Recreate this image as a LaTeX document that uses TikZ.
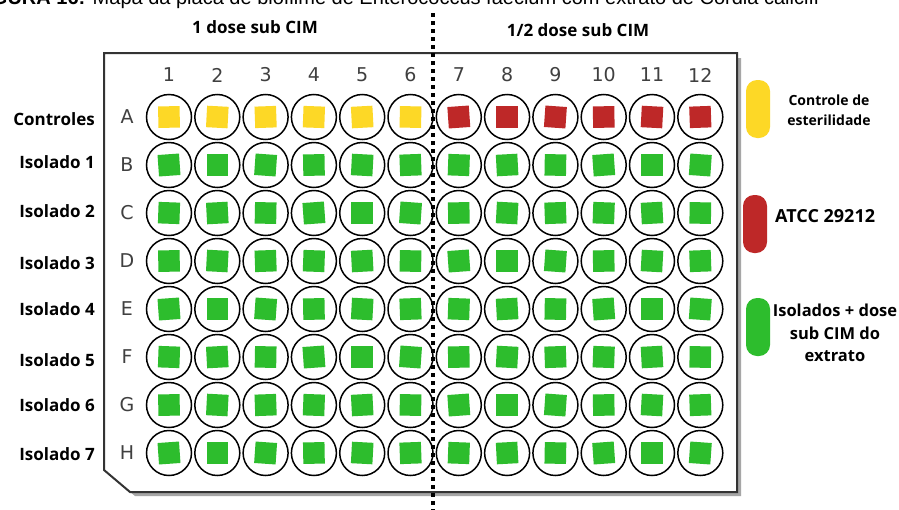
\documentclass[tikz,border=0pt]{standalone}
\usepackage{fontspec}
\setmainfont{Open Sans}
\newfontfamily\dejavu{DejaVu Sans}
\newfontfamily\arial{Liberation Sans}
\definecolor{wyel}{HTML}{FDD826}
\definecolor{wred}{HTML}{BE2828}
\definecolor{wgrn}{HTML}{2DBD2D}
\definecolor{labgray}{HTML}{404040}
\tikzset{
  well/.style={circle, draw=black, line width=1.5pt, fill=white, minimum size=45pt, inner sep=0pt},
  sq/.style={draw=none, minimum size=21.5pt, inner sep=0pt},
  collab/.style={font=\dejavu\fontsize{19}{21}\selectfont, text=labgray, inner sep=0pt},
  rowlab/.style={font=\dejavu\fontsize{19}{21}\selectfont, text=labgray, inner sep=0pt},
  sidelab/.style={font=\bfseries\fontsize{17}{19}\selectfont, anchor=east, inner sep=0pt},
  head/.style={font=\bfseries\fontsize{17}{19}\selectfont, inner sep=0pt},
  pill/.style={rounded corners=11pt, draw=none, minimum width=24pt, minimum height=58pt, inner sep=0pt},
  legtext/.style={font=\bfseries\fontsize{14}{20}\selectfont, align=center, inner sep=0pt},
}
\begin{document}
\begin{tikzpicture}[x=1pt,y=-1pt]
\useasboundingbox (0,0) rectangle (899,509);
\clip (0,0) rectangle (899,509);
\fill[white] (0,0) rectangle (899,509);
% cut caption
\node[anchor=base west, inner sep=0pt, font=\arial\fontsize{20}{22}\selectfont] (cap) at (-26,4)
  {\textbf{FIGURA 16:} Mapa da placa de biofilme de Enterococcus faecium com extrato de Cordia calicifl};
% plate shadow and plate
\fill[black!35] (109,58) -- (741,58) -- (741,496) -- (135,496) -- (109,475) -- cycle;
\draw[black!80, line width=2pt, fill=white] (104,53) -- (737,53) -- (737,492) -- (130,492) -- (104,470) -- cycle;
% headers
\node[head] (h1) at (255,27) {1 dose sub CIM};
\node[head] (h2) at (578,30) {1/2 dose sub CIM};
% column labels
\foreach \c in {1,...,12}{
  \node[collab] (n\c) at ({169+(\c-1)*48.3},75) {\c};
}
% wells
\foreach \r [count=\i from 0] in {A,B,C,D,E,F,G,H}{
  \node[rowlab] (l\r) at (127,{117+\i*48}) {\r};
  \foreach \c in {1,...,12}{
    \node[well] (w\r\c) at ({169+(\c-1)*48.3},{117+\i*48}) {};
    \pgfmathsetmacro{\rot}{mod(\c*5+\i*3,9)-4}
    \ifnum\i=0
      \ifnum\c<7 \def\wc{wyel}\else\def\wc{wred}\fi
    \else \def\wc{wgrn}\fi
    \node[sq, fill=\wc, rotate=\rot] (s\r\c) at (w\r\c) {};
  }
}
% side labels
\node[sidelab] (sA) at (95,119) {Controles};
\node[sidelab] (sB) at (95,162) {Isolado 1};
\node[sidelab] (sC) at (95,211) {Isolado 2};
\node[sidelab] (sD) at (95,263) {Isolado 3};
\node[sidelab] (sE) at (95,309) {Isolado 4};
\node[sidelab] (sF) at (95,360) {Isolado 5};
\node[sidelab] (sG) at (95,405) {Isolado 6};
\node[sidelab] (sH) at (95,454) {Isolado 7};
% dotted separator
\coordinate (dtop) at (433,13);
\coordinate (dbot) at (433,512);
\draw[line width=3.5pt, dash pattern=on 3.5pt off 4.5pt] (dtop) -- (dbot);
% legend
\node[pill, fill=wyel] (p1) at (758,109) {};
\node[legtext] (t1) at (829,110) {Controle de\\esterilidade};
\node[pill, fill=wred] (p2) at (755,224) {};
\node[legtext, anchor=west, font=\bfseries\fontsize{18}{20}\selectfont] (t2) at (775,216) {ATCC 29212};
\node[pill, fill=wgrn] (p3) at (758,327) {};
\node[legtext, font=\bfseries\fontsize{16.5}{22.5}\selectfont] (t3) at (835,333) {Isolados + dose\\sub CIM do\\extrato};
\end{tikzpicture}
\end{document}
